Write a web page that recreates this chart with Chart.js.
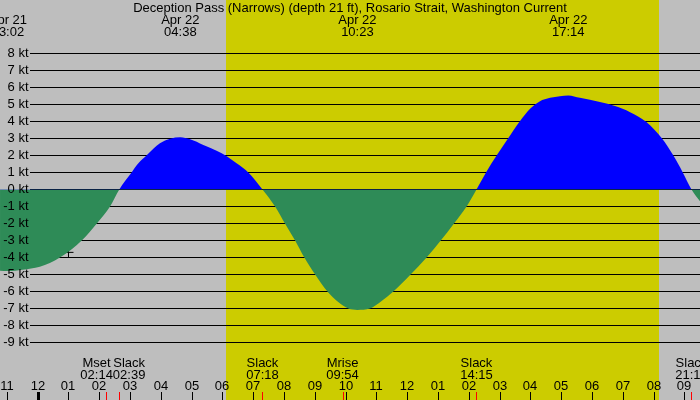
<!DOCTYPE html>
<html>
<head>
<meta charset="utf-8">
<script src="https://cdn.jsdelivr.net/npm/chart.js@4/dist/chart.umd.min.js"></script>
<style>
  html, body { margin: 0; padding: 0; background: #bebebe; }
  #wrap { width: 700px; height: 400px; }
</style>
</head>
<body>
<div id="wrap"><canvas id="c" width="700" height="400"></canvas></div>
<script>
// ---- data (hours since Apr 22 00:00, knots) ----
const curveHours = [-1.224, -0.967, -0.5, 0.07, 0.72, 1.43, 1.92, 2.35, 2.65,
  3.05, 3.27, 3.54, 3.97, 4.633, 4.95, 5.38, 5.81, 6.14, 6.46, 6.84, 7.30,
  7.71, 8.03, 8.36, 8.66, 9.01, 9.41, 9.76, 10.09, 10.383, 10.79, 11.17, 11.55, 12.11, 12.63, 13.09, 13.52, 13.93, 14.25,
  14.56, 14.91, 15.28, 15.66, 16.00, 16.30, 16.64, 16.96, 17.233, 17.61, 18.26, 18.75, 19.24, 19.76, 20.27, 20.64, 20.95, 21.233, 21.51];
const curveKnots = [-4.78, -4.80, -4.72, -4.55, -4.0, -3.0, -2.0, -1.0, 0,
  1.0, 1.53, 2.0, 2.71, 3.06, 2.94, 2.61, 2.27, 1.95, 1.53, 1.0, 0,
  -1, -2, -3, -4, -5, -6, -6.62, -7.0, -7.08, -7.0, -6.56, -6, -5, -4, -3, -2, -1, 0,
  1, 2, 3, 4, 4.75, 5.17, 5.38, 5.48, 5.52, 5.38, 5.13, 4.9, 4.54, 3.97, 3.0, 2.0, 1.0, 0, -0.7];

const markerHours = [1.0];
const markerKnots = [-3.7];

const knotTicks = [8, 7, 6, 5, 4, 3, 2, 1, 0, -1, -2, -3, -4, -5, -6, -7, -8, -9];
const hourTicks = [-1, 0, 1, 2, 3, 4, 5, 6, 7, 8, 9, 10, 11, 12, 13, 14, 15, 16, 17, 18, 19, 20, 21];
const hourLabels = ['11', '12', '01', '02', '03', '04', '05', '06', '07', '08', '09', '10', '11',
  '12', '01', '02', '03', '04', '05', '06', '07', '08', '09'];

const extremeHours = [-0.967, 4.633, 10.383, 17.233];
const extremeDates = ['Apr 21', 'Apr 22', 'Apr 22', 'Apr 22'];
const extremeTimes = ['23:02', '04:38', '10:23', '17:14'];

const eventHours = [2.233, 2.65, 7.30, 9.90, 14.25, 21.233];
const eventNames = ['Mset', 'Slack', 'Slack', 'Mrise', 'Slack', 'Slack'];
const eventTimes = ['02:14', '02:39', '07:18', '09:54', '14:15', '21:14'];

const sunriseHour = 6.117;
const sunsetHour = 20.183;

const titleText = 'Deception Pass (Narrows) (depth 21 ft), Rosario Strait, Washington Current';

// ---- style ----
const FONT = '13px "Liberation Sans", Arial, sans-serif';
const GRAY = '#bebebe';
const YELLOW = '#cccc00';
const BLUE = '#0000ff';
const GREEN = '#2e8b57';

const px = v => Math.round(v) + 0.5;

const decor = {
  id: 'decor',
  beforeDraw(chart) {
    const ctx = chart.ctx, xs = chart.scales.x;
    ctx.save();
    ctx.fillStyle = GRAY;
    ctx.fillRect(0, 0, chart.width, chart.height);
    const x1 = Math.round(xs.getPixelForValue(sunriseHour));
    const x2 = Math.round(xs.getPixelForValue(sunsetHour));
    ctx.fillStyle = YELLOW;
    ctx.fillRect(x1, 0, x2 - x1, chart.height);
    ctx.restore();
  },
  beforeDatasetsDraw(chart) {
    const ctx = chart.ctx, ys = chart.scales.y;
    ctx.save();
    ctx.strokeStyle = '#000';
    ctx.lineWidth = 1;
    knotTicks.forEach(k => {
      const y = px(ys.getPixelForValue(k) - 0.5);
      ctx.beginPath();
      ctx.moveTo(30, y);
      ctx.lineTo(chart.width, y);
      ctx.stroke();
    });
    ctx.restore();
  },
  afterDatasetsDraw(chart) {
    const ctx = chart.ctx, xs = chart.scales.x, ys = chart.scales.y;
    ctx.save();
    ctx.font = FONT;
    ctx.fillStyle = '#000';
    ctx.textBaseline = 'middle';
    // y labels
    ctx.textAlign = 'right';
    knotTicks.forEach(k => {
      ctx.fillText(k + ' kt', 28.5, ys.getPixelForValue(k));
    });
    // title
    ctx.textBaseline = 'alphabetic';
    ctx.textAlign = 'center';
    ctx.fillText(titleText, 350, 12);
    // extremes
    extremeHours.forEach((h, i) => {
      const x = xs.getPixelForValue(h);
      ctx.fillText(extremeDates[i], x, 24);
      ctx.fillText(extremeTimes[i], x, 36);
    });
    // hour ticks and labels
    hourTicks.forEach((h, i) => {
      const x = Math.round(xs.getPixelForValue(h));
      ctx.fillStyle = '#000';
      ctx.fillText(hourLabels[i], x, 390);
      if (h === 0) {
        ctx.fillRect(x - 1, 392, 3, 8);
      } else {
        ctx.fillRect(x, 392, 1, 8);
      }
    });
    // event labels with simple collision avoidance
    const items = eventHours.map((h, i) => {
      const x = xs.getPixelForValue(h);
      const w = Math.max(ctx.measureText(eventNames[i]).width, ctx.measureText(eventTimes[i]).width);
      return { x, c: x, w, i };
    });
    for (let k = 0; k < items.length - 1; k++) {
      const a = items[k], b = items[k + 1];
      const need = (a.w + b.w) / 2;
      if (b.c - a.c < need) {
        const mid = (a.c + b.c) / 2;
        a.c = mid - need / 2;
        b.c = mid + need / 2;
      }
    }
    items.forEach(it => {
      ctx.fillStyle = '#000';
      ctx.fillText(eventNames[it.i], it.c, 367);
      ctx.fillText(eventTimes[it.i], it.c, 378.5);
      ctx.fillStyle = '#ff0000';
      ctx.fillRect(Math.round(it.x), 392, 1, 8);
    });
    ctx.restore();
  }
};

const curveData = curveHours.map((h, i) => ({ x: h, y: curveKnots[i] }));
const markerData = markerHours.map((h, i) => ({ x: h, y: markerKnots[i] }));

new Chart(document.getElementById('c'), {
  type: 'line',
  data: {
    datasets: [
      {
        data: curveData,
        borderWidth: 0,
        borderColor: 'rgba(0,0,0,0)',
        pointRadius: 0,
        cubicInterpolationMode: 'monotone',
        fill: { target: { value: 0 }, above: BLUE, below: GREEN }
      },
      {
        type: 'scatter',
        data: markerData,
        pointStyle: 'cross',
        pointRadius: 5,
        borderColor: '#000',
        backgroundColor: '#000',
        borderWidth: 1,
        showLine: false
      }
    ]
  },
  options: {
    responsive: false,
    animation: false,
    devicePixelRatio: 1,
    layout: { padding: 0, autoPadding: false },
    plugins: { legend: { display: false }, tooltip: { enabled: false } },
    scales: {
      x: { type: 'linear', display: false, min: -1.2244, max: 21.510 },
      y: { type: 'linear', display: false, min: -12.374, max: 11.128 }
    }
  },
  plugins: [decor]
});
</script>
</body>
</html>
